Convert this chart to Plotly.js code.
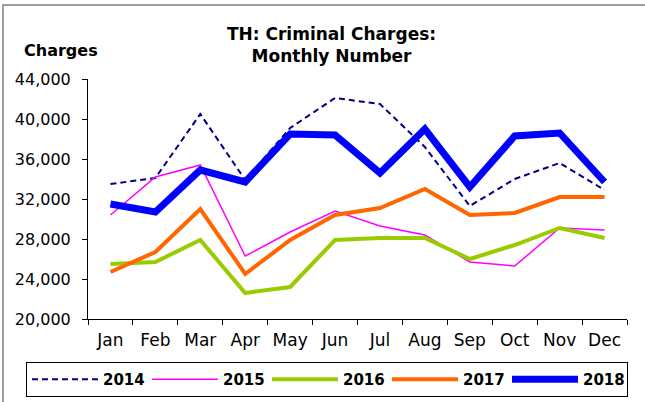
<!DOCTYPE html>
<html>
<head>
<meta charset="utf-8">
<script src="https://cdn.plot.ly/plotly-3.0.1.min.js"></script>
<style>html,body{margin:0;padding:0;background:#fff;}#chart{width:645px;height:402px;}</style>
</head>
<body>
<div id="chart"></div>
<script>
var months = ["Jan","Feb","Mar","Apr","May","Jun","Jul","Aug","Sep","Oct","Nov","Dec"];
var years = ["2014","2015","2016","2017","2018"];
var v2014 = [33500, 34100, 40500, 33900, 39100, 42100, 41500, 37200, 31300, 34000, 35600, 32900];
var v2015 = [30400, 34200, 35400, 26300, 28700, 30800, 29300, 28400, 25700, 25300, 29100, 28900];
var v2016 = [25500, 25700, 27900, 22600, 23200, 27900, 28100, 28100, 26000, 27400, 29100, 28100];
var v2017 = [24700, 26700, 31000, 24500, 27900, 30400, 31100, 33000, 30400, 30600, 32200, 32200];
var v2018 = [31500, 30700, 34900, 33700, 38500, 38400, 34600, 39000, 33200, 38300, 38600, 33700];
var yTicks = [20000, 24000, 28000, 32000, 36000, 40000, 44000];

var series = [v2014, v2015, v2016, v2017, v2018];
var styles = [
  {color: "#000080", width: 2, dash: "6px,4px"},
  {color: "#FF00FF", width: 1.5, dash: "solid"},
  {color: "#99CC00", width: 4, dash: "solid"},
  {color: "#FF6600", width: 4, dash: "solid"},
  {color: "#0000FF", width: 7, dash: "solid"}
];
var traces = series.map(function (vals, i) {
  return {
    type: "scatter", mode: "lines", x: months, y: vals, name: years[i],
    line: styles[i]
  };
});

var F = "DejaVu Sans, Arial, sans-serif";
var layout = {
  width: 645, height: 402,
  margin: {l: 88, r: 18, t: 79, b: 83, autoexpand: false},
  paper_bgcolor: "#ffffff", plot_bgcolor: "#ffffff",
  font: {family: F, color: "#000", size: 16},
  showlegend: true,
  title: {
    text: "<b>TH: Criminal Charges:<br>Monthly Number</b>",
    font: {family: F, size: 17, color: "#000"},
    xref: "container", x: 0.514, xanchor: "center",
    yref: "container", y: 1 - 40 / 402, yanchor: "top"
  },
  xaxis: {
    type: "category", range: [-0.5, 11.5],
    showline: true, linecolor: "#000", linewidth: 1,
    ticks: "outside", ticklen: 5, tickcolor: "#000", tickson: "boundaries",
    showgrid: false, zeroline: false,
    tickfont: {family: F, size: 17, color: "#000"},
    ticklabelstandoff: 6,
    fixedrange: true
  },
  yaxis: {
    range: [20000, 44000], tickvals: yTicks, tickformat: ",d",
    showline: true, linecolor: "#000", linewidth: 1,
    ticks: "outside", ticklen: 5, tickcolor: "#000",
    showgrid: false, zeroline: false,
    tickfont: {family: F, size: 16, color: "#000"},
    ticklabelstandoff: 8,
    fixedrange: true
  },
  legend: {
    orientation: "h",
    xref: "paper", yref: "paper",
    x: (26 - 88) / 539, xanchor: "left",
    y: (319 - 362) / 240, yanchor: "top",
    bordercolor: "#000", borderwidth: 1, bgcolor: "#fff",
    font: {family: F, size: 15, color: "#000", weight: "bold"},
    entrywidth: 39, entrywidthmode: "pixels",
    itemwidth: 66,
    traceorder: "normal"
  },
  annotations: [{
    text: "<b>Charges</b>", showarrow: false,
    xref: "paper", yref: "paper",
    x: (22 - 88) / 539, xanchor: "left",
    y: (319 - 50) / 240, yanchor: "middle",
    font: {family: F, size: 16, color: "#000"}
  }],
  shapes: [{
    type: "path", xref: "paper", yref: "paper",
    path: "M " + ((3 - 88) / 539) + " " + ((319 - 410) / 240) +
          " L " + ((3 - 88) / 539) + " " + ((319 - 5) / 240) +
          " L " + ((650 - 88) / 539) + " " + ((319 - 5) / 240),
    line: {color: "#808080", width: 1.5}
  }]
};

Plotly.newPlot("chart", traces, layout, {displayModeBar: false, staticPlot: true});
</script>
</body>
</html>
